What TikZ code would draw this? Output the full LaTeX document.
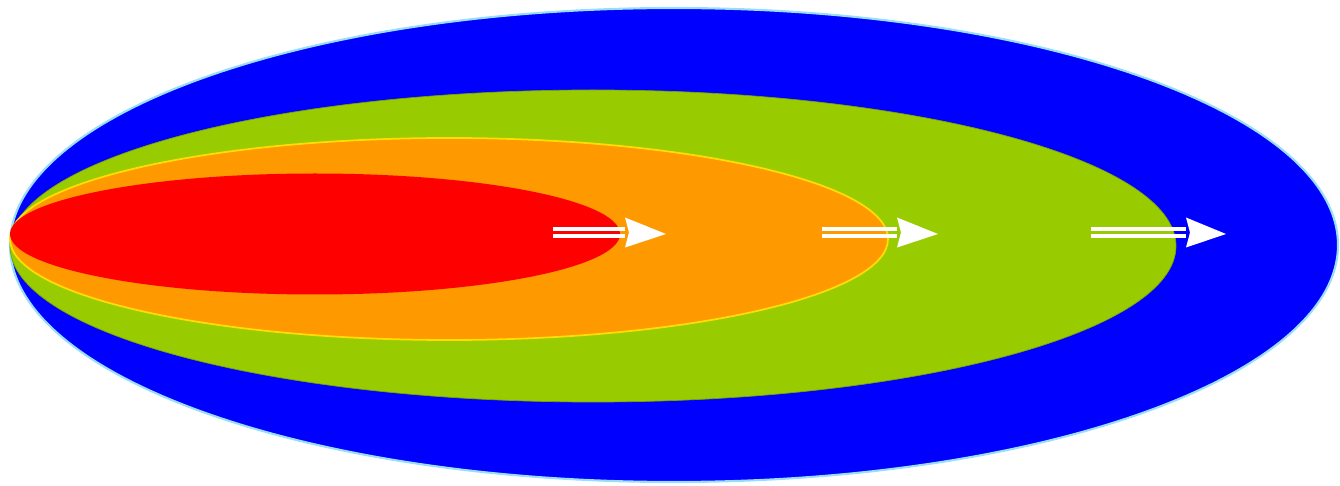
\documentclass[tikz,border=0pt]{standalone}
\usetikzlibrary{positioning}
\definecolor{zoneblue}{HTML}{0000FF}
\definecolor{zonegreen}{HTML}{99CC00}
\definecolor{zoneorange}{HTML}{FF9900}
\definecolor{zonered}{HTML}{FF0000}
\begin{document}
\begin{tikzpicture}[x=0.02cm, y=-0.02cm,
    flowline/.style={white, line width=2.2},
    flowhead/.style={white}]
        \useasboundingbox (0,0) rectangle (1340,486);
        % Strefy
        \filldraw[fill=zoneblue, draw=cyan!40, line width=1.2] (674,245) ellipse [x radius=664, y radius=237];
        \filldraw[fill=zonegreen, draw=zonegreen!80!black, line width=0.4] (593,246) ellipse [x radius=583, y radius=156];
        \filldraw[fill=zoneorange, draw=yellow!80!orange, line width=1] (449,239) ellipse [x radius=439, y radius=101];
        \fill[zonered] (315,234) ellipse [x radius=305, y radius=60.5];

        % Strzalki
        \foreach \name/\xs/\xh/\xe in {a/553/625/666, b/822/897/938, c/1091/1186/1226} {
            \coordinate (\name-start) at (\xs,232.5);
            \coordinate (\name-head) at (\xh,232.5);
            \coordinate (\name-tip) at (\xe,234);
            \draw[flowline] ([yshift=3.5*0.02cm]\name-start) -- ([yshift=3.5*0.02cm]\name-head);
            \draw[flowline] ([yshift=-3.5*0.02cm]\name-start) -- ([yshift=-3.5*0.02cm]\name-head);
            \fill[flowhead] (\name-tip) -- ([yshift=15*0.02cm]\name-head) -- ([xshift=4*0.02cm]\name-head) -- ([yshift=-15*0.02cm]\name-head) -- cycle;
        }
    \end{tikzpicture}
\end{document}
